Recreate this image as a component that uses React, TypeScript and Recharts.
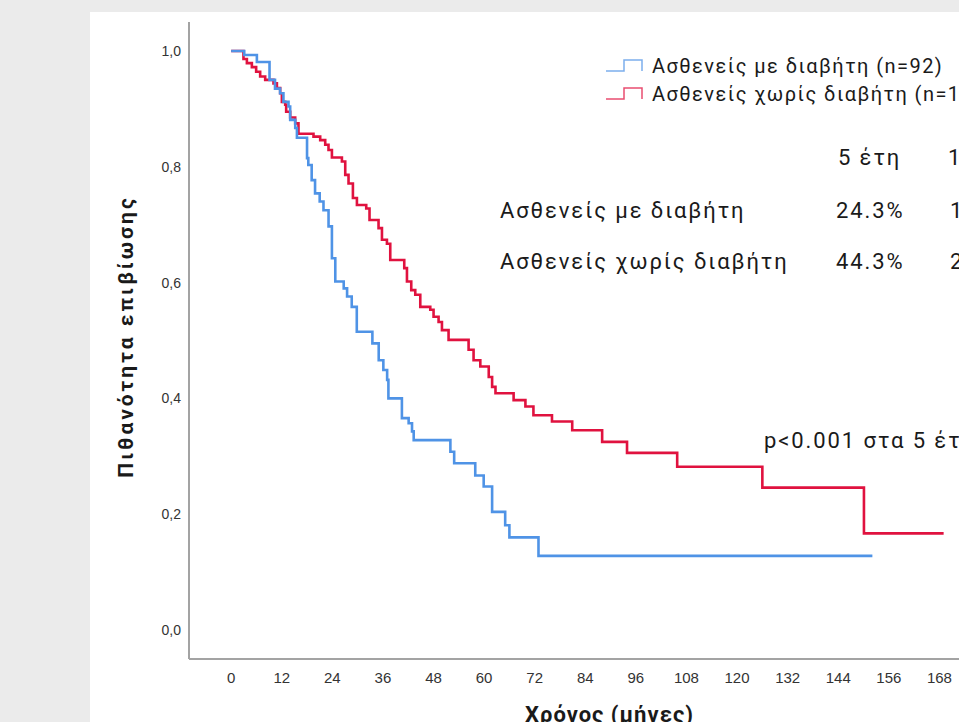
import { CartesianGrid, Label, Line, LineChart, XAxis, YAxis } from "recharts";

// Kaplan-Meier καμπύλες (μήνες, πιθανότητα επιβίωσης)
const diabMonths = [
  0, 3.1, 6.1, 9.1, 10.4, 11.6, 12.4, 13.6, 14.0, 15.2, 15.6, 18.0, 18.3, 19.1,
  19.9, 21.0, 21.9, 23.1, 23.9, 24.7, 26.7, 27.5, 28.6, 29.8, 33.5, 35.0, 36.1,
  37.0, 37.3, 40.5, 42.1, 42.9, 43.3, 52.0, 52.9, 57.9, 59.9, 61.9, 65.0, 66.0,
  72.9, 152.1,
];
const diabSurv = [
  1.0, 0.993, 0.981, 0.95, 0.935, 0.927, 0.912, 0.904, 0.881, 0.867, 0.85,
  0.815, 0.803, 0.777, 0.754, 0.74, 0.725, 0.697, 0.642, 0.602, 0.59, 0.576,
  0.558, 0.515, 0.495, 0.466, 0.449, 0.432, 0.4, 0.366, 0.357, 0.343, 0.328,
  0.308, 0.288, 0.267, 0.248, 0.204, 0.181, 0.16, 0.128, 0.128,
];

const noDiabMonths = [
  0, 2.92, 3.73, 4.91, 5.93, 6.88, 8.07, 10.04, 10.85, 11.63, 12.03, 12.82,
  13.05, 14.0, 15.19, 15.97, 19.53, 21.12, 22.31, 23.09, 23.9, 26.27, 27.06,
  27.84, 28.88, 29.83, 32.04, 32.82, 34.96, 35.77, 36.95, 37.74, 41.06, 41.7,
  42.72, 43.67, 44.86, 47.23, 48.01, 49.2, 50.0, 51.57, 56.32, 57.5, 59.1, 61.1,
  61.9, 62.7, 67.0, 69.8, 71.7, 76.1, 80.9, 88.0, 93.9, 105.8, 126.0, 150.1,
  169.0,
];
const noDiabSurv = [
  1.0, 0.986, 0.979, 0.972, 0.964, 0.956, 0.95, 0.944, 0.936, 0.927, 0.912,
  0.907, 0.895, 0.885, 0.875, 0.857, 0.852, 0.846, 0.838, 0.829, 0.816, 0.809,
  0.786, 0.771, 0.746, 0.734, 0.728, 0.708, 0.694, 0.674, 0.667, 0.639, 0.625,
  0.602, 0.587, 0.579, 0.558, 0.553, 0.541, 0.532, 0.518, 0.501, 0.484, 0.466,
  0.455, 0.437, 0.42, 0.409, 0.397, 0.386, 0.371, 0.36, 0.345, 0.325, 0.306,
  0.282, 0.246, 0.167, 0.167,
];

const xTicks = [0, 12, 24, 36, 48, 60, 72, 84, 96, 108, 120, 132, 144, 156, 168];
const yTicks = [0, 0.2, 0.4, 0.6, 0.8, 1.0];

const legendItems = [
  { label: "Ασθενείς με διαβήτη (n=92)", color: "#4f93e6" },
  { label: "Ασθενείς χωρίς διαβήτη (n=19", color: "#e0123f" },
];

const tableHeader = ["5 έτη", "1"];
const tableRows = [
  { group: "Ασθενείς με διαβήτη", y5: "24.3%", y10: "1" },
  { group: "Ασθενείς χωρίς διαβήτη", y5: "44.3%", y10: "2" },
];
const pValueText = "p<0.001 στα 5 έτη";

const COLORS = { diab: "#4f93e6", noDiab: "#e0123f", axis: "#a3a3a3" };

const diabData = diabMonths.map((m, i) => ({ m, s: diabSurv[i] }));
const noDiabData = noDiabMonths.map((m, i) => ({ m, s: noDiabSurv[i] }));

const annot = {
  position: "absolute" as const,
  fontFamily: "Roboto, sans-serif",
  fontSize: 22,
  letterSpacing: 1.9,
  lineHeight: "26px",
  color: "#1a1a1a",
  whiteSpace: "nowrap" as const,
};

export default function App() {
  return (
    <div
      style={{
        position: "fixed",
        top: 0,
        left: 0,
        width: 959,
        height: 722,
        overflow: "hidden",
        background: "#ebebeb",
      }}
    >
      <div
        style={{
          position: "absolute",
          left: 90,
          top: 12,
          right: 0,
          bottom: 0,
          background: "#ffffff",
        }}
      />
      <div style={{ position: "absolute", left: 0, top: 0 }}>
        <LineChart
          width={1000}
          height={760}
          margin={{ top: 22, right: 10, left: 0, bottom: 35 }}
        >
          <CartesianGrid stroke="none" />
          <XAxis
            dataKey="m"
            type="number"
            domain={[-10, 180]}
            ticks={xTicks}
            allowDataOverflow
            height={66}
            tickSize={0}
            tickMargin={13}
            axisLine={{ stroke: COLORS.axis, strokeWidth: 2 }}
            tick={{
              fontSize: 15,
              fill: "#333",
              fontFamily: "'Liberation Sans Narrow', 'Liberation Sans', Arial",
            }}
          >
            <Label
              value="Χρόνος (μήνες)"
              position="insideBottom"
              offset={3}
              dx={20}
              style={{
                fontSize: 22,
                fontWeight: 700,
                fill: "#1a1a1a",
                fontFamily: "Roboto, sans-serif",
                letterSpacing: 1,
              }}
            />
          </XAxis>
          <YAxis
            type="number"
            domain={[-0.05, 1.05]}
            ticks={yTicks}
            allowDataOverflow
            width={189}
            tickSize={0}
            tickMargin={8}
            tickFormatter={(v: number) => v.toFixed(1).replace(".", ",")}
            axisLine={{ stroke: COLORS.axis, strokeWidth: 2 }}
            tick={{
              fontSize: 14,
              fill: "#333",
              fontFamily: "'Liberation Sans', Arial",
            }}
          >
            <Label
              value="Πιθανότητα επιβίωσης"
              angle={-90}
              position="center"
              dx={31}
              dy={-4}
              style={{
                fontSize: 21,
                fontWeight: 700,
                fill: "#1a1a1a",
                fontFamily: "Roboto, sans-serif",
                letterSpacing: 3,
                textAnchor: "middle",
              }}
            />
          </YAxis>
          <Line
            data={noDiabData}
            dataKey="s"
            type="stepAfter"
            stroke={COLORS.noDiab}
            strokeWidth={2.6}
            dot={false}
            isAnimationActive={false}
          />
          <Line
            data={diabData}
            dataKey="s"
            type="stepAfter"
            stroke={COLORS.diab}
            strokeWidth={2.6}
            dot={false}
            isAnimationActive={false}
          />
        </LineChart>
      </div>

      {/* Υπόμνημα */}
      {legendItems.map((item, i) => (
        <div
          key={item.label}
          style={{
            ...annot,
            left: 605,
            top: 53 + i * 28,
            fontSize: 20,
            letterSpacing: 1.45,
            display: "flex",
            alignItems: "center",
          }}
        >
          <svg width={40} height={14} style={{ marginRight: 7 }}>
            <polyline
              points="1,12 19,12 19,1 37,1 37,12"
              fill="none"
              stroke={item.color}
              strokeWidth={1.5}
              opacity={0.75}
            />
          </svg>
          {item.label}
        </div>
      ))}

      {/* Πίνακας επιβίωσης */}
      <div style={{ ...annot, left: 838, top: 145 }}>{tableHeader[0]}</div>
      <div style={{ ...annot, left: 948, top: 145 }}>{tableHeader[1]}</div>
      {tableRows.map((row, i) => (
        <div key={row.group}>
          <div style={{ ...annot, left: 500, top: 198 + i * 51 }}>{row.group}</div>
          <div style={{ ...annot, left: 836, top: 198 + i * 51 }}>{row.y5}</div>
          <div style={{ ...annot, left: 950, top: 198 + i * 51 }}>{row.y10}</div>
        </div>
      ))}
      <div style={{ ...annot, left: 764, top: 428, letterSpacing: 1.9 }}>
        {pValueText}
      </div>
    </div>
  );
}
